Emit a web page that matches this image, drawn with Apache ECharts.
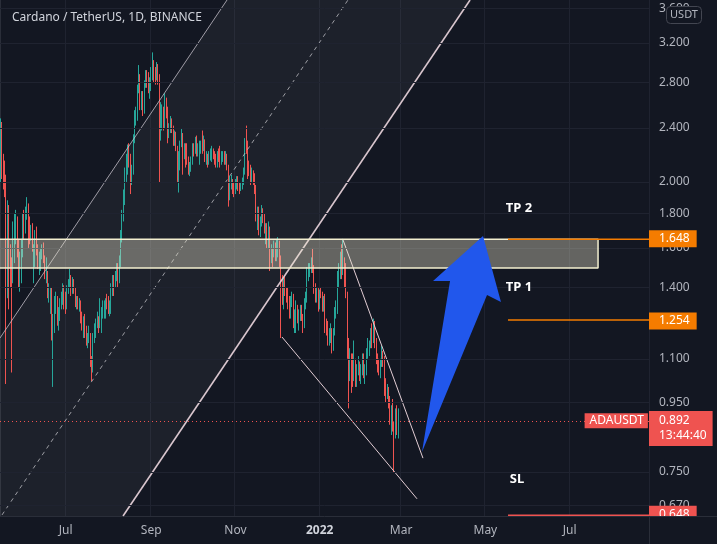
<!DOCTYPE html>
<html><head><meta charset="utf-8">
<script src="https://cdn.jsdelivr.net/npm/echarts@6/dist/echarts.min.js"></script>
<style>html,body{margin:0;padding:0;background:#131722;}#c{width:717px;height:544px;}</style>
</head><body><div id="c"></div>
<script>
// ---- categories ----
const startDate = Date.UTC(2021, 4, 15);
const totalDays = 470;
const monthTicks = ['2021-07-01','2021-09-01','2021-11-01','2022-01-01','2022-03-01','2022-05-01','2022-07-01'];
const monthTickLabels = ['Jul','Sep','Nov','2022','Mar','May','Jul'];
// ---- daily ADA/USDT (open = previous close) ----
const firstOpen = 2.05;
const closes = [
2.38,2.10,2.05,1.98,1.55,1.80,1.55,1.50,1.45,1.68,1.70,1.75,1.62,1.48,1.50,1.60,1.75,
1.72,1.80,1.85,1.72,1.66,1.69,1.60,1.60,1.68,1.60,1.52,1.55,1.58,1.58,1.54,1.46,1.47,1.38,1.38,1.38,1.20,1.25,1.32,1.33,1.25,1.29,1.33,1.33,1.39,1.37,
1.32,1.39,1.42,1.45,1.39,1.42,1.38,1.33,1.34,1.31,1.33,1.26,1.24,1.26,1.19,1.16,1.18,1.19,1.09,1.06,1.18,1.20,1.24,1.25,1.24,1.27,1.28,1.28,1.30,1.33,1.32,
1.30,1.30,1.38,1.43,1.42,1.45,1.48,1.44,1.52,1.65,1.78,1.87,2.05,2.12,2.20,2.15,2.02,2.08,2.30,2.50,2.50,2.75,2.85,2.60,2.65,2.55,2.78,2.86,2.83,2.75,2.78,
2.85,2.95,2.90,2.85,2.95,2.83,2.45,2.50,2.53,2.42,2.60,2.55,2.35,2.40,2.45,2.40,2.30,2.35,2.25,2.08,2.10,2.28,2.35,2.20,2.25,2.20,2.15,2.08,2.10,2.15,
2.25,2.22,2.30,2.22,2.24,2.25,2.26,2.24,2.30,2.16,2.18,2.16,2.18,2.20,2.21,2.19,2.17,2.14,2.20,2.18,2.15,2.16,2.20,2.14,2.18,2.10,1.95,1.98,1.98,1.97,1.96,
1.98,2.00,1.98,1.96,1.97,2.00,2.06,2.28,2.25,2.12,2.10,2.05,2.06,2.03,1.96,1.78,1.80,1.70,1.75,1.82,1.78,1.70,1.72,1.64,1.72,1.56,1.58,1.57,1.60,1.55,
1.58,1.62,1.54,1.42,1.40,1.42,1.38,1.37,1.32,1.28,1.34,1.36,1.24,1.26,1.30,1.26,1.27,1.29,1.27,1.23,1.33,1.34,1.46,1.48,1.50,1.52,1.50,1.40,1.36,1.38,1.31,
1.38,1.37,1.31,1.34,1.25,1.23,1.17,1.18,1.20,1.15,1.20,1.28,1.30,1.45,1.48,1.54,1.48,1.52,1.46,1.36,1.17,1.05,1.10,1.08,1.04,1.09,1.03,1.06,1.08,1.03,1.06,
1.10,1.05,1.05,1.12,1.14,1.15,1.20,1.18,1.22,1.16,1.10,1.08,1.07,1.09,1.12,1.10,1.00,0.98,0.99,0.95,0.92,0.92,0.87,0.86,0.91,0.86,0.892];
const highs = [
2.48,2.45,2.20,2.15,2.05,1.88,1.85,1.62,1.55,1.75,1.80,1.82,1.78,1.65,1.58,1.65,1.80,
1.82,1.84,1.90,1.86,1.78,1.73,1.74,1.62,1.70,1.72,1.62,1.58,1.60,1.62,1.63,1.56,1.55,1.48,1.42,1.40,1.40,1.28,1.36,1.38,1.36,1.31,1.35,1.38,1.42,1.41,
1.38,1.41,1.44,1.49,1.46,1.45,1.44,1.40,1.36,1.36,1.35,1.34,1.29,1.27,1.28,1.23,1.20,1.23,1.20,1.11,1.20,1.24,1.26,1.29,1.27,1.35,1.31,1.34,1.34,1.35,1.37,
1.36,1.34,1.42,1.46,1.46,1.48,1.52,1.52,1.56,1.70,1.82,1.95,2.10,2.20,2.27,2.28,2.20,2.12,2.35,2.55,2.58,2.78,2.97,2.88,2.72,2.72,2.82,2.92,2.92,2.90,2.85,
2.95,3.10,3.02,2.95,3.00,2.98,2.88,2.62,2.60,2.58,2.70,2.66,2.58,2.44,2.50,2.48,2.42,2.38,2.37,2.26,2.22,2.30,2.40,2.36,2.28,2.28,2.28,2.18,2.14,2.18,
2.28,2.28,2.33,2.34,2.28,2.30,2.30,2.38,2.34,2.31,2.22,2.20,2.22,2.24,2.26,2.24,2.22,2.20,2.22,2.24,2.26,2.22,2.22,2.22,2.22,2.20,2.12,2.04,2.05,2.02,2.00,
2.02,2.04,2.04,2.00,2.00,2.03,2.10,2.32,2.42,2.30,2.15,2.12,2.10,2.08,2.06,1.98,1.84,1.84,1.78,1.85,1.83,1.80,1.74,1.74,1.75,1.72,1.62,1.60,1.64,1.63,
1.65,1.66,1.64,1.56,1.46,1.45,1.46,1.40,1.40,1.36,1.36,1.38,1.37,1.30,1.34,1.32,1.30,1.32,1.32,1.28,1.35,1.38,1.50,1.52,1.52,1.55,1.60,1.51,1.42,1.40,1.40,
1.39,1.40,1.38,1.36,1.37,1.26,1.25,1.22,1.24,1.22,1.22,1.31,1.34,1.48,1.52,1.58,1.62,1.65,1.55,1.52,1.38,1.18,1.14,1.12,1.12,1.17,1.10,1.08,1.11,1.09,1.08,
1.12,1.12,1.08,1.14,1.18,1.17,1.22,1.24,1.26,1.25,1.18,1.12,1.10,1.10,1.15,1.13,1.11,1.03,1.01,1.00,0.97,0.94,0.96,0.89,0.93,0.94,0.93];
const lows = [
2.00,2.02,1.95,1.90,1.01,1.35,1.30,1.40,1.05,1.42,1.52,1.62,1.55,1.40,1.38,1.42,1.55,
1.65,1.68,1.76,1.60,1.62,1.64,1.58,1.42,1.50,1.56,1.49,1.46,1.48,1.54,1.52,1.44,1.42,1.35,1.33,1.28,1.17,1.00,1.20,1.28,1.23,1.21,1.25,1.30,1.32,1.30,
1.28,1.30,1.37,1.40,1.36,1.37,1.37,1.31,1.30,1.30,1.29,1.24,1.21,1.18,1.18,1.15,1.14,1.16,1.07,1.02,1.05,1.16,1.18,1.22,1.20,1.22,1.20,1.26,1.26,1.26,1.30,
1.28,1.27,1.28,1.36,1.36,1.40,1.43,1.40,1.42,1.50,1.63,1.75,1.85,2.00,2.05,2.10,1.92,1.98,2.05,2.28,2.42,2.46,2.70,2.55,2.55,2.50,2.52,2.75,2.75,2.70,2.65,
2.72,2.82,2.80,2.78,2.82,2.78,2.00,2.30,2.38,2.38,2.40,2.48,2.28,2.32,2.36,2.36,2.26,2.26,2.22,2.00,1.93,2.08,2.25,2.05,2.16,2.10,2.12,2.05,2.04,2.07,
2.12,2.18,2.20,2.18,2.18,2.12,2.20,2.20,2.22,2.14,2.12,2.10,2.12,2.15,2.14,2.16,2.12,2.10,2.10,2.14,2.10,2.12,2.14,2.12,2.12,2.08,1.84,1.88,1.95,1.92,1.90,
1.92,1.95,1.94,1.92,1.94,1.95,1.98,2.05,2.20,2.02,2.04,1.98,2.00,1.98,1.92,1.75,1.70,1.67,1.66,1.72,1.74,1.68,1.62,1.60,1.60,1.48,1.52,1.50,1.55,1.53,
1.53,1.55,1.50,1.18,1.32,1.30,1.36,1.33,1.30,1.26,1.26,1.31,1.22,1.20,1.20,1.24,1.21,1.25,1.25,1.20,1.22,1.30,1.33,1.43,1.45,1.47,1.47,1.37,1.33,1.33,1.29,
1.30,1.35,1.29,1.29,1.20,1.19,1.15,1.15,1.16,1.12,1.13,1.19,1.26,1.28,1.40,1.44,1.44,1.46,1.40,1.35,1.10,0.93,1.02,0.98,1.00,1.02,1.00,1.00,1.04,1.02,1.01,
1.04,1.03,1.01,1.04,1.10,1.11,1.14,1.14,1.16,1.14,1.08,1.05,1.04,1.03,1.07,1.07,0.97,0.95,0.96,0.93,0.88,0.85,0.86,0.75,0.84,0.85,0.84];
// ---- price axis ----
const yMin = 0.6463, yMax = 3.701;
const priceTicks = [3.6,3.2,2.8,2.4,2.0,1.8,1.6,1.4,1.1,0.95,0.75,0.67];
const lastPrice = 0.892;
const countdown = '13:44:40';
const tp2 = 1.648, tp1 = 1.254, sl = 0.648;
const zoneLow = 1.495, zoneHigh = 1.648;
// ---- drawings anchored at [day index, price] ----
const channelUpper = [[-0.5,1.180],[163.9,3.701]];
const channelMid = [[0.95,0.6486],[251.5,3.701]];
const channelLower = [[88.6,0.6463],[339.9,3.701]];
const wedgeUpper = [[247.9,1.644],[305.8,0.786]];
const wedgeLower = [[203.7,1.184],[301.5,0.685]];
const zoneStart = -2, zoneEnd = 432.6;
const rayStart = 367.4, rayEnd = 469.5;
const arrowPts = [[305.1,0.8025],[325.4,1.431],[313.1,1.431],[349.3,1.666],[362.3,1.333],[352.2,1.365]];
const noteTexts = ['TP 2','TP 1','SL'];
const notePts = [[375.4,1.832],[375.4,1.402],[373.9,0.7325]];

const dates = [];
for (let i = 0; i < totalDays; i++) dates.push(new Date(startDate + i*86400000).toISOString().slice(0,10));
const ohlc = closes.map((c,i)=>{
  const o = i===0 ? firstOpen : closes[i-1];
  return [o, c, Math.min(lows[i],o,c), Math.max(highs[i],o,c)];
});

const FONT = "'Noto Sans', 'DejaVu Sans', sans-serif";
const gridColor = '#1f2330';
const axisText = '#b2b5be';
const isTick = (i,v)=> monthTicks.indexOf(v) >= 0;

function lineSeries(pts, color, width, type, z){
  return {type:'line', xAxisIndex:1, yAxisIndex:0, data:pts, symbol:'none', silent:true, z:z||3,
    lineStyle:{color, width, type: type||'solid'}, animation:false};
}
function polySeries(pts, style, z){
  return {type:'custom', xAxisIndex:1, yAxisIndex:0, z, silent:true, clip:true, data:[pts[0]],
    renderItem:(p, api)=>({type:'polygon', shape:{points: pts.map(q=>api.coord(q))}, style})};
}

const tickMarks = priceTicks.map(v=>({yAxis:v,
  lineStyle:{color:gridColor, width:1, type:'solid'},
  label:{show:true, position:'end', distance:10, formatter:v.toFixed(3), color:axisText, fontSize:12, fontFamily:FONT}}));
function boxMark(v, bg, text){
  return {yAxis:v, lineStyle:{color:'rgba(0,0,0,0)', width:1},
    label:{show:true, position:'end', distance:0, formatter:text, color:'#ffffff', backgroundColor:bg,
      padding:[3,7,2,10], fontSize:12, fontFamily:FONT}};
}

const option = {
  animation:false,
  backgroundColor:'#131722',
  textStyle:{fontFamily:FONT},
  title:{text:'Cardano / TetherUS, 1D, BINANCE', left:7, top:7,
    textStyle:{color:'#d1d4dc', fontSize:12, fontWeight:'normal', fontFamily:FONT}},
  grid:{left:0, right:68, top:0, bottom:28, containLabel:false, outerBoundsMode:'none'},
  xAxis:[
    {type:'category', data:dates, boundaryGap:true,
     axisLine:{show:true, lineStyle:{color:'#2a2e39'}},
     axisTick:{show:false, alignWithLabel:true},
     axisLabel:{interval:isTick, color:axisText, fontSize:12, margin:9,
       formatter:v=>{const k=monthTicks.indexOf(v); const t=monthTickLabels[k]; return /^\d{4}$/.test(t)?'{y|'+t+'}':t;},
       rich:{y:{color:'#d1d4dc', fontSize:12, fontWeight:'bold', fontFamily:FONT}}},
     splitLine:{show:true, interval:isTick, lineStyle:{color:gridColor}}},
    {type:'value', min:-0.5, max:totalDays-0.5, show:false}
  ],
  yAxis:[{type:'log', min:yMin, max:yMax, position:'right',
    axisLine:{show:true, lineStyle:{color:'#2a2e39'}}, axisTick:{show:false},
    axisLabel:{show:false}, splitLine:{show:false}}],
  graphic:[
    {type:'rect', z:100, shape:{x:650, y:517, width:67, height:27}, style:{fill:'#131722'}},
    {type:'line', z:101, shape:{x1:649.5, y1:516, x2:649.5, y2:544}, style:{stroke:'#2a2e39', lineWidth:1}},
    {type:'line', z:101, shape:{x1:649, y1:516.5, x2:717, y2:516.5}, style:{stroke:'#2a2e39', lineWidth:1}},
    {type:'rect', z:102, shape:{x:666.5, y:6.5, width:35, height:17, r:4}, style:{fill:'#131722', stroke:'#434651', lineWidth:1}},
    {type:'text', z:103, x:684, y:15, style:{text:'USDT', fill:axisText, font:'11px '+FONT, align:'center', verticalAlign:'middle', textAlign:'center', textVerticalAlign:'middle'}}
  ],
  series:[
    {type:'line', xAxisIndex:1, yAxisIndex:0, data:[[-50,1]], symbol:'none', z:0, silent:true,
     markLine:{silent:true, symbol:['none','none'], animation:false,
       data: tickMarks.concat([
         boxMark(tp2, '#f57c00', tp2.toFixed(3)),
         boxMark(tp1, '#f57c00', tp1.toFixed(3)),
         boxMark(sl, '#ef5350', sl.toFixed(3)),
         {yAxis:lastPrice, lineStyle:{color:'#ef5350', width:1, type:[1,3]},
          label:{show:true, position:'end', distance:0, formatter:lastPrice.toFixed(3)+'\n'+countdown, color:'#ffffff',
            backgroundColor:'#ef5350', padding:[3,6,2,10], lineHeight:15, fontSize:12, fontFamily:FONT, offset:[0,7]}}
       ])}},
    polySeries([channelUpper[0], channelUpper[1], channelLower[1], channelLower[0], [-0.5, yMin]], {fill:'rgba(255,255,255,0.045)'}, 1),
    {type:'candlestick', name:'ADAUSDT', xAxisIndex:0, yAxisIndex:0, data:ohlc, z:2, barWidth:0.6,
     itemStyle:{color:'#26a69a', color0:'#ef5350', borderColor:'#26a69a', borderColor0:'#ef5350', borderWidth:1}},
    lineSeries(channelUpper, 'rgba(205,200,210,0.75)', 1),
    lineSeries(channelMid, 'rgba(200,200,205,0.75)', 1, [4,4]),
    lineSeries(channelLower, '#d9c6ce', 1.6),
    lineSeries(wedgeUpper, '#e2cdd4', 1),
    lineSeries(wedgeLower, '#e2cdd4', 1),
    polySeries([[zoneStart,zoneHigh],[zoneEnd,zoneHigh],[zoneEnd,zoneLow],[zoneStart,zoneLow]], {fill:'rgba(238,234,205,0.37)'}, 5),
    lineSeries([[zoneStart,zoneHigh],[zoneEnd,zoneHigh],[zoneEnd,zoneLow],[zoneStart,zoneLow]], '#f3efcf', 1.5, 'solid', 6),
    lineSeries([[rayStart,tp2],[rayEnd,tp2]], '#f57c00', 1.5, 'solid', 7),
    lineSeries([[rayStart,tp1],[rayEnd,tp1]], '#f57c00', 1.5, 'solid', 7),
    lineSeries([[rayStart,sl],[rayEnd,sl]], '#ef5350', 1.5, 'solid', 7),
    polySeries(arrowPts, {fill:'#2157ec'}, 8),
    {type:'custom', xAxisIndex:1, yAxisIndex:0, z:9, silent:true, clip:false, data:notePts,
     renderItem:(p, api)=>{const c=api.coord([api.value(0), api.value(1)]);
       return {type:'text', x:c[0], y:c[1], style:{text:noteTexts[p.dataIndex], fill:'#ffffff', font:'bold 13px '+FONT,
         align:'center', verticalAlign:'middle', textAlign:'center', textVerticalAlign:'middle'}};}},
    {type:'custom', xAxisIndex:1, yAxisIndex:0, z:9, silent:true, clip:false, data:[[rayEnd-0.8, lastPrice]],
     renderItem:(p, api)=>{const c=api.coord([api.value(0), api.value(1)]);
       return {type:'text', x:c[0], y:c[1], style:{text:'ADAUSDT', fill:'#ffffff', font:'12px '+FONT, backgroundColor:'#ef5350',
         padding:[2,4,1,5], align:'right', verticalAlign:'middle', textAlign:'right', textVerticalAlign:'middle'}};}}
  ]
};
const chart = echarts.init(document.getElementById('c'));
chart.setOption(option);
</script>
</body></html>
